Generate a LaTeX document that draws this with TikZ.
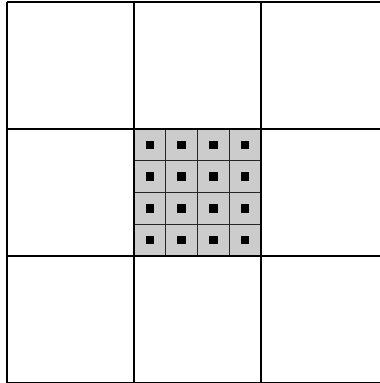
\documentclass[tikz,border=0pt]{standalone}
\begin{document}
\begin{tikzpicture}[x=1pt,y=-1pt,
  gridline/.style={draw=black,line width=1.2pt},
  subline/.style={draw=black!85,line width=0.9pt},
  cellfill/.style={fill=black!20},
  dot/.style={fill=black}]
\useasboundingbox (0,0) rectangle (380,383);
\begin{scope}
\clip (0,0) rectangle (380,383);
% shaded centre cell
\fill[cellfill] (134,129) rectangle (261,256);
% sub grid
\foreach \i in {1,2,3} {
  \draw[subline] ({134+\i*31.75},129) -- ({134+\i*31.75},256);
  \draw[subline] (134,{129+\i*31.75}) -- (261,{129+\i*31.75});
}
% dots
\foreach \i in {0,1,2,3} {
  \foreach \j in {0,1,2,3} {
    \fill[dot] ({134+\i*31.75+15.875-4.3},{129+\j*31.75+15.875-4.3}) rectangle ++(8.6,8.6);
  }
}
% main grid
\foreach \x in {7,134,261} {
  \draw[gridline] (\x,2) -- (\x,390);
}
\foreach \y in {2,129,256,383} {
  \draw[gridline] (7,\y) -- (390,\y);
}
\end{scope}
\end{tikzpicture}
\end{document}
